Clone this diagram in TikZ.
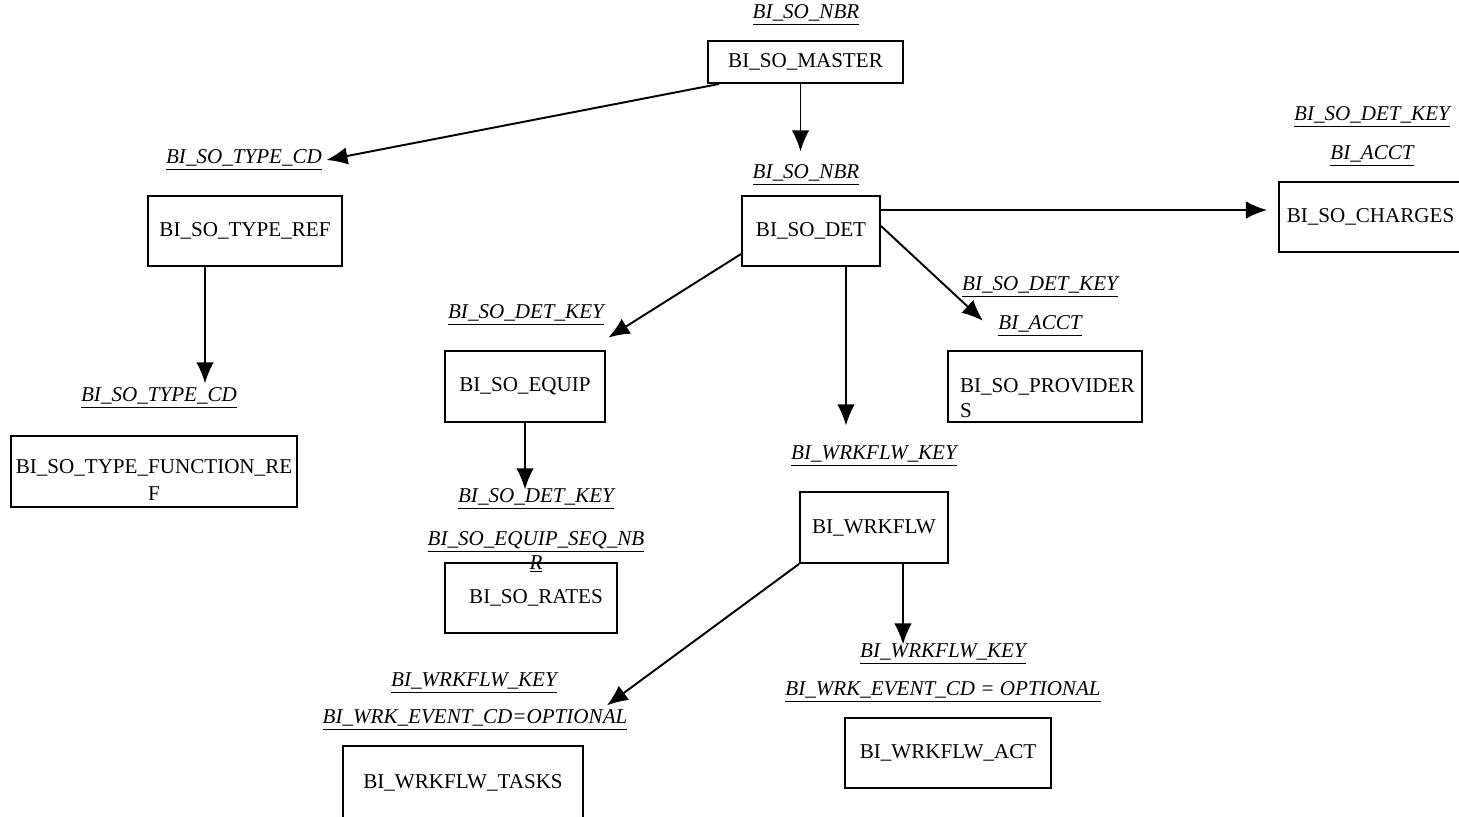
\documentclass[tikz,border=0pt]{standalone}
\usepackage{fontspec}
\setmainfont{Liberation Serif}
\usetikzlibrary{arrows.meta}
\tikzset{>={Latex[length=12pt,width=10pt]}}
\tikzset{tbl/.style={draw, line width=1.1pt, inner sep=0pt, align=center,
  font=\fontsize{12}{14}\selectfont}}
\tikzset{fk/.style={inner sep=2pt, align=center,
  font=\fontsize{12}{13.7}\selectfont\itshape}}
\newcommand{\uk}[1]{\underline{#1}}

\begin{document}
\begin{tikzpicture}[x=0.02cm, y=-0.02cm, line width=1.1pt]
    \useasboundingbox (0,0) rectangle (1459,816);
    % tables
    \node[tbl, minimum width=3.9cm, minimum height=0.84cm] (master) at (805.5,62) {BI\_SO\_MASTER};
    \node[tbl, minimum width=3.88cm, minimum height=1.4cm] (typeref) at (245,231) {BI\_SO\_TYPE\_REF};
    \node[tbl, minimum width=5.72cm, minimum height=1.42cm, font=\fontsize{12}{15.5}\selectfont] (funcref) at (154,471.5) {\rule{0pt}{18pt}BI\_SO\_TYPE\_FUNCTION\_RE\\F};
    \node[tbl, minimum width=2.76cm, minimum height=1.4cm] (det) at (811,231) {BI\_SO\_DET};
    \node[tbl, minimum width=3.66cm, minimum height=1.4cm] (charges) at (1370.5,217) {BI\_SO\_CHARGES};
    \node[tbl, minimum width=3.2cm, minimum height=1.42cm] (equip) at (525,386.5) {BI\_SO\_EQUIP};
    \node[tbl, minimum width=3.44cm, minimum height=1.4cm] (rates) at (531,598) {\hspace{0.2cm}BI\_SO\_RATES};
    \node[tbl, minimum width=3.88cm, minimum height=1.42cm, align=left, text width=3.4cm] (providers) at (1045,386.5) {\rule{0pt}{21pt}BI\_SO\_PROVIDER\\S};
    \node[tbl, minimum width=2.96cm, minimum height=1.42cm] (wrkflw) at (874,527.5) {BI\_WRKFLW};
    \node[tbl, minimum width=4.8cm, minimum height=1.48cm] (tasks) at (463,783) {BI\_WRKFLW\_TASKS};
    \node[tbl, minimum width=4.12cm, minimum height=1.4cm] (act) at (948,753) {BI\_WRKFLW\_ACT};
    % key labels
    \node[fk] (nbrM) at (806,15) {\uk{BI\_SO\_NBR}};
    \node[fk] (cdA) at (244,160) {\uk{BI\_SO\_TYPE\_CD}};
    \node[fk] (cdB) at (159,398) {\uk{BI\_SO\_TYPE\_CD}};
    \node[fk] (nbrD) at (806,175) {\uk{BI\_SO\_NBR}};
    \node[fk] (chgkey) at (1372,117) {\uk{BI\_SO\_DET\_KEY}};
    \node[fk] (chgacct) at (1372,156) {\uk{BI\_ACCT}};
    \node[fk] (eqkey) at (526,315) {\uk{BI\_SO\_DET\_KEY}};
    \node[fk] (ratekey) at (536,499) {\uk{BI\_SO\_DET\_KEY}};
    \node[fk] (rateseq) at (536,552) {\uk{BI\_SO\_EQUIP\_SEQ\_NB}\\\uk{R}};
    \node[fk] (provkey) at (1040,287) {\uk{BI\_SO\_DET\_KEY}};
    \node[fk] (provacct) at (1040,326) {\uk{BI\_ACCT}};
    \node[fk] (wfkey) at (874,456) {\uk{BI\_WRKFLW\_KEY}};
    \node[fk] (taskkey) at (474,683) {\uk{BI\_WRKFLW\_KEY}};
    \node[fk] (taskev) at (475,720) {\uk{BI\_WRK\_EVENT\_CD=OPTIONAL}};
    \node[fk] (actkey) at (943,654) {\uk{BI\_WRKFLW\_KEY}};
    \node[fk] (actev) at (943,692) {\uk{BI\_WRK\_EVENT\_CD = OPTIONAL}};
    % relations
    \draw[->] ([xshift=0.24cm]master.south west) -- (cdA.east);
    \draw[->, shorten >=0.18cm] ([xshift=-0.1cm]master.south) -- ([xshift=-0.1cm]master.south |- nbrD.north);
    \draw[->] ([yshift=-0.46cm]det.west) -- ([yshift=-0.16cm]eqkey.south east);
    \draw[->, shorten >=0.22cm] ([yshift=0.42cm]det.east) -- ([yshift=0.42cm]det.east -| charges.west);
    \draw[->, shorten >=0.3cm] ([yshift=0.1cm]det.east) -- ([yshift=-0.1cm]provacct.west);
    \draw[->, shorten >=0.32cm] ([xshift=0.7cm]det.south) -- ([xshift=0.7cm]det.south |- wfkey.north);
    \draw[->] ([xshift=-0.8cm]typeref.south) -- ([xshift=-0.8cm]typeref.south |- cdB.north);
    \draw[->, shorten >=-0.1cm] (equip.south) -- (equip.south |- ratekey.north);
    \draw[->] (wrkflw.south west) -- ([xshift=-0.5cm]taskev.north east);
    \draw[->, shorten >=-0.1cm] ([xshift=0.58cm]wrkflw.south) -- ([xshift=0.58cm]wrkflw.south |- actkey.north);
\end{tikzpicture}
\end{document}
